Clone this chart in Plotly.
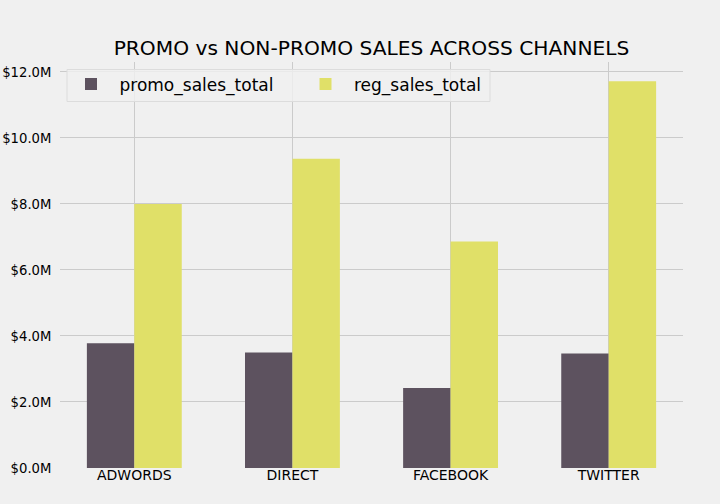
import plotly.graph_objects as go

channels = ["ADWORDS", "DIRECT", "FACEBOOK", "TWITTER"]
promo_sales_total = [3.78e6, 3.50e6, 2.42e6, 3.47e6]
reg_sales_total = [8.00e6, 9.37e6, 6.86e6, 11.72e6]
y_ticks = [0, 2e6, 4e6, 6e6, 8e6, 10e6, 12e6]
y_tick_labels = ["$%.1fM" % (v / 1e6) for v in y_ticks]

font_family = "DejaVu Sans"
bg = "#f0f0f0"
grid = "#cbcbcb"
W, H = 720, 504
ML, MR, MT, MB = 60, 37, 62, 36
PW, PH = W - ML - MR, H - MT - MB

def px_x(p):
    return (p - ML) / PW

def px_y(p):
    return 1 - (p - MT) / PH

fig = go.Figure()
fig.add_trace(go.Bar(x=channels, y=promo_sales_total, name="promo_sales_total",
                     marker=dict(color="#5d525f", line=dict(width=0))))
fig.add_trace(go.Bar(x=channels, y=reg_sales_total, name="reg_sales_total",
                     marker=dict(color="#e0e068", line=dict(width=0))))

# legend frame (matplotlib-style box)
fig.add_shape(type="rect", xref="paper", yref="paper",
              x0=px_x(67), x1=px_x(490), y0=px_y(101.5), y1=px_y(69.5),
              fillcolor="rgba(240,240,240,0.8)", line=dict(color="#dcdcdc", width=1),
              layer="above")

fig.update_layout(
    width=W, height=H,
    margin=dict(l=ML, r=MR, t=MT, b=MB, autoexpand=False),
    paper_bgcolor=bg, plot_bgcolor=bg,
    barmode="group", bargap=0.4, bargroupgap=0,
    font=dict(family=font_family, color="#000000", size=14),
    title=dict(text="PROMO vs NON-PROMO SALES ACROSS CHANNELS",
               font=dict(family=font_family, size=20.2, color="#000000"),
               x=0.516, xanchor="center", y=1 - 48 / H, yanchor="middle",
               xref="container", yref="container", automargin=False),
    legend=dict(orientation="h", x=px_x(62.5), y=px_y(66.5), xanchor="left", yanchor="top",
                font=dict(family=font_family, size=17, color="#000000"),
                bgcolor="rgba(0,0,0,0)", borderwidth=0, itemwidth=47,
                entrywidth=172.5, traceorder="normal"),
    showlegend=True,
)
fig.update_xaxes(range=[-0.47, 3.47], showgrid=True, gridcolor=grid, gridwidth=1,
                 zeroline=False, showline=False, ticks="", ticklabelstandoff=-3,
                 tickfont=dict(size=14, color="#000000"), automargin=False)
fig.update_yaxes(range=[0, 12.3e6], tickvals=y_ticks, ticktext=y_tick_labels,
                 showgrid=True, gridcolor=grid, gridwidth=1, zeroline=False,
                 showline=False, ticks="outside", ticklen=5,
                 tickcolor="rgba(0,0,0,0)", tickfont=dict(size=13.2, color="#000000"),
                 automargin=False)

fig.write_html("out.html", config={"displayModeBar": False},
               post_script="document.body.style.margin='0';document.body.style.background='#f0f0f0';")
